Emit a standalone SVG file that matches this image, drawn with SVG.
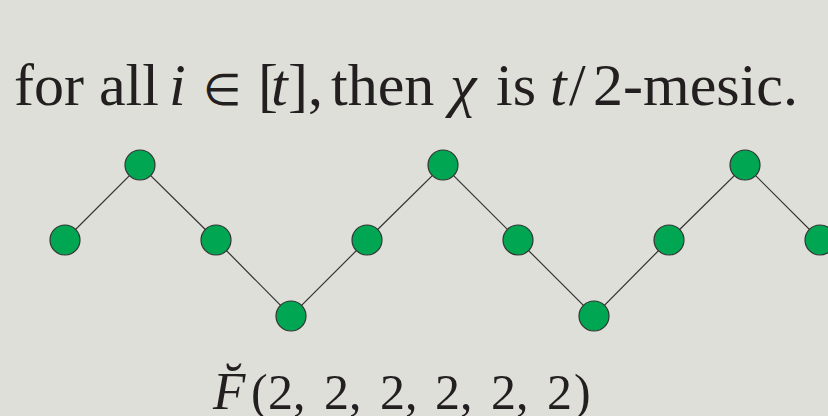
<svg xmlns="http://www.w3.org/2000/svg" width="828" height="416" viewBox="0 0 828 416">
<style>
.t{font-family:"Liberation Serif","Times New Roman",serif;fill:#231f20}
.it{font-style:italic}
.n{fill:#00a651;stroke:#333;stroke-width:1.2}
.e{stroke:#333;stroke-width:1.2;fill:none}
</style>
<rect width="828" height="416" fill="#dfdfd9"/>
<text class="t" y="105" font-size="60"><tspan x="14">for all</tspan><tspan class="it" x="169">i</tspan><tspan x="203" font-size="44">∈</tspan><tspan x="258">[</tspan><tspan class="it" x="271">t</tspan><tspan x="288">],</tspan><tspan x="331">then</tspan><tspan class="it" x="450">χ</tspan><tspan x="496">is</tspan><tspan class="it" x="550">t</tspan><tspan x="569">/</tspan><tspan x="593">2-mesic.</tspan></text>
<g id="edges">
<polyline class="e" points="65,240 140,165 216,240 291,316 367,240 443,165 518,240 594,316 669,240 745,165 820,240"/>
</g>
<g id="n1"><circle class="n" cx="65" cy="240" r="15"/></g>
<g id="n2"><circle class="n" cx="140" cy="165" r="15"/></g>
<g id="n3"><circle class="n" cx="216" cy="240" r="15"/></g>
<g id="n4"><circle class="n" cx="291" cy="316" r="15"/></g>
<g id="n5"><circle class="n" cx="367" cy="240" r="15"/></g>
<g id="n6"><circle class="n" cx="443" cy="165" r="15"/></g>
<g id="n7"><circle class="n" cx="518" cy="240" r="15"/></g>
<g id="n8"><circle class="n" cx="594" cy="316" r="15"/></g>
<g id="n9"><circle class="n" cx="669" cy="240" r="15"/></g>
<g id="n10"><circle class="n" cx="745" cy="165" r="15"/></g>
<g id="n11"><circle class="n" cx="820" cy="240" r="15"/></g>
<text class="t" y="409" font-size="50"><tspan class="it" x="213" font-size="53">F̆</tspan><tspan x="251">(</tspan><tspan x="268">2,</tspan><tspan x="324">2,</tspan><tspan x="380">2,</tspan><tspan x="435">2,</tspan><tspan x="491">2,</tspan><tspan x="547">2</tspan><tspan x="574">)</tspan></text>
</svg>
